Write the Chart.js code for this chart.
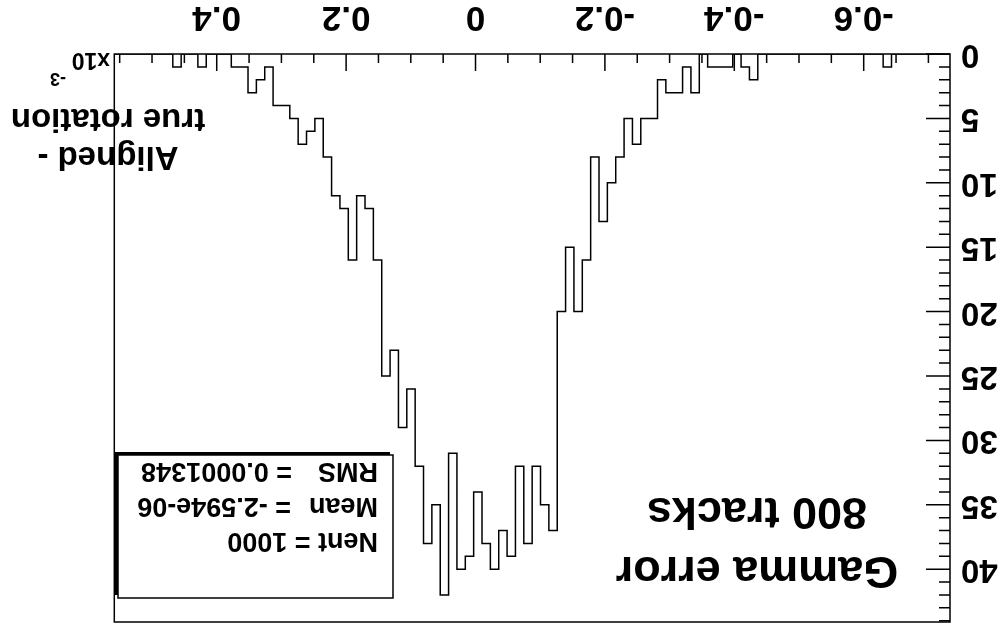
<!DOCTYPE html>
<html>
<head>
<meta charset="utf-8">
<script src="https://cdn.jsdelivr.net/npm/chart.js@4.4.1/dist/chart.umd.min.js"></script>
<style>
  html, body { margin: 0; padding: 0; background: #fff; }
  /* the reference picture is upside down, so the whole chart is turned */
  #wrap { width: 1000px; height: 630px; transform: rotate(180deg); }
</style>
</head>
<body>
<div id="wrap"><canvas id="chart" width="1000" height="630"></canvas></div>
<script>
// 100 bins, counts (sum = Nent = 1000)
const binCounts = [
  0, 0, 0, 0, 0, 0, 0, 1, 0, 0,
  0, 0, 0, 0, 0, 0, 0, 0, 0, 0,
  0, 0, 0, 2, 1, 0, 1, 1, 1, 0,
  3, 1, 3, 3, 2, 5, 5, 7, 5, 8,
  10, 13, 8, 16, 20, 15, 20, 37, 35, 32,
  38, 32, 39, 37, 40, 38, 34, 39, 40, 31,
  42, 35, 38, 32, 26, 29, 23, 25, 16, 12,
  11, 16, 12, 11, 8, 5, 6, 7, 5, 4,
  4, 1, 2, 3, 1, 1, 0, 0, 0, 1,
  0, 0, 1, 0, 0, 0, 0, 0, 0, 0
];
const xMin = -0.7334;
const xMax = 0.5583;
const yMax = 44.1;
const xTickValues = [-0.6, -0.4, -0.2, 0, 0.2, 0.4];
const xTickLabels = ['-0.6', '-0.4', '-0.2', '0', '0.2', '0.4'];
const yTickValues = [0, 5, 10, 15, 20, 25, 30, 35, 40];
const titleLines = ['Gamma error', '800 tracks'];
const axisTitleLines = ['Aligned -', 'true rotation'];
const axisExponent = ['x10', '-3'];
const statNames = ['Nent', 'Mean', 'RMS'];
const statValues = ['1000', '-2.594e-06', '0.0001348'];

const FONT = 'Liberation Sans, Arial, Helvetica, sans-serif';
const binWidth = (xMax - xMin) / binCounts.length;
const histPoints = [];
for (let k = 0; k <= binCounts.length; k++) {
  histPoints.push({ x: xMin + k * binWidth, y: binCounts[Math.min(k, binCounts.length - 1)] });
}

// frame, inner ticks (ROOT style), title, stats box, axis title
const rootDecor = {
  id: 'rootDecor',
  afterDraw(chart) {
    const ctx = chart.ctx;
    const a = chart.chartArea;
    const xs = chart.scales.x, ys = chart.scales.y;
    ctx.save();
    ctx.strokeStyle = '#000';
    ctx.fillStyle = '#000';
    ctx.lineWidth = 1.5;
    ctx.strokeRect(a.left, a.top, a.right - a.left, a.bottom - a.top);

    ctx.beginPath();
    for (let k = -14; k <= 11; k++) {
      const px = xs.getPixelForValue(k * 0.05);
      const len = (k % 4 === 0) ? 17 : 9;
      ctx.moveTo(px, a.bottom);
      ctx.lineTo(px, a.bottom - len);
    }
    for (let n = 0; n <= 44; n++) {
      const py = ys.getPixelForValue(n);
      const len = (n % 5 === 0) ? 24 : 11;
      ctx.moveTo(a.left, py);
      ctx.lineTo(a.left + len, py);
    }
    ctx.stroke();

    // title
    ctx.textAlign = 'center';
    ctx.textBaseline = 'alphabetic';
    ctx.font = 'bold 45px ' + FONT;
    ctx.fillText(titleLines[0], 243, 73);
    ctx.fillText(titleLines[1], 243, 132);

    // x axis title + exponent
    ctx.font = 'bold 33px ' + FONT;
    ctx.fillText(axisTitleLines[0], 892, 483);
    ctx.fillText(axisTitleLines[1], 892, 521);
    ctx.textAlign = 'left';
    ctx.font = 'bold 23px ' + FONT;
    ctx.fillText(axisExponent[0], 890, 577);
    ctx.font = 'bold 18px ' + FONT;
    ctx.fillText(axisExponent[1], 934, 557);

    // stats box with shadow
    const bx = 607, by = 32, bw = 275, bh = 143;
    ctx.fillRect(bx + 3, by + 3, bw, bh);
    ctx.fillStyle = '#fff';
    ctx.fillRect(bx, by, bw, bh);
    ctx.lineWidth = 1.5;
    ctx.strokeRect(bx, by, bw, bh);
    ctx.fillStyle = '#000';
    ctx.font = 'bold 27px ' + FONT;
    ctx.fillText(statNames[0] + ' = ' + statValues[0], 622, 97);
    ctx.fillText(statNames[1], 622, 132);
    ctx.fillText('= ' + statValues[1], 709, 132);
    ctx.fillText(statNames[2], 622, 167);
    ctx.fillText('= ' + statValues[2], 708, 167);
    ctx.restore();
  }
};

new Chart(document.getElementById('chart'), {
  type: 'line',
  data: {
    datasets: [{
      data: histPoints,
      stepped: 'before',
      borderColor: '#000',
      borderWidth: 1.5,
      pointRadius: 0,
      fill: false
    }]
  },
  options: {
    responsive: false,
    animation: false,
    layout: { padding: { top: 8, right: 114.3, left: 0, bottom: 0 } },
    plugins: { legend: { display: false }, tooltip: { enabled: false } },
    scales: {
      x: {
        type: 'linear',
        min: xMin,
        max: xMax,
        grid: { display: false },
        border: { display: false },
        afterBuildTicks: s => { s.ticks = xTickValues.map(v => ({ value: v })); },
        afterFit: s => { s.height = 54; s.paddingLeft = 0; s.paddingRight = 0; },
        ticks: {
          padding: 8,
          maxRotation: 0,
          autoSkip: false,
          color: '#000',
          font: { family: FONT, weight: 'bold', size: 35 },
          callback: (v) => xTickLabels[xTickValues.findIndex(t => Math.abs(t - v) < 1e-9)]
        }
      },
      y: {
        min: 0,
        max: yMax,
        grid: { display: false },
        border: { display: false },
        afterBuildTicks: s => { s.ticks = yTickValues.map(v => ({ value: v })); },
        afterFit: s => { s.width = 50; s.paddingTop = 0; s.paddingBottom = 0; },
        ticks: {
          padding: 3,
          autoSkip: false,
          color: '#000',
          font: { family: FONT, weight: 'bold', size: 33 }
        }
      }
    }
  },
  plugins: [rootDecor]
});
</script>
</body>
</html>
